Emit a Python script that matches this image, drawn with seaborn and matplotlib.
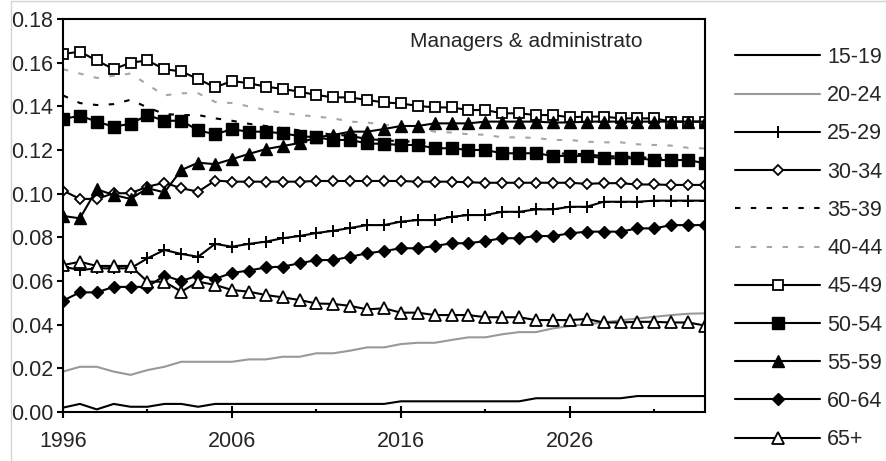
import seaborn as sns
import matplotlib.pyplot as plt
from matplotlib.ticker import MultipleLocator, FormatStrFormatter
from matplotlib.transforms import Bbox, TransformedBbox
from matplotlib.lines import Line2D

# share of employment by age group, managers & administrators
years = list(range(1996, 2035))

age_15_19 = [0.002, 0.0037, 0.0012, 0.0037, 0.0024, 0.0024, 0.0037, 0.0037, 0.0024,
             0.0037, 0.0037, 0.0037, 0.0037, 0.0037, 0.0037, 0.0037, 0.0037, 0.0037, 0.0037, 0.0037,
             0.0049, 0.0049, 0.0049, 0.0049, 0.0049, 0.0049, 0.0049, 0.0049,
             0.0063, 0.0063, 0.0063, 0.0063, 0.0063, 0.0063,
             0.0073, 0.0073, 0.0073, 0.0073, 0.0073]
age_20_24 = [0.0185, 0.0207, 0.0207, 0.0185, 0.017, 0.0192, 0.0207, 0.023, 0.023, 0.023,
             0.023, 0.0241, 0.0241, 0.0253, 0.0253, 0.0269, 0.0269, 0.0281, 0.0296, 0.0296,
             0.0311, 0.0317, 0.0317, 0.033, 0.0342, 0.0342, 0.0356, 0.0366, 0.0366, 0.0383,
             0.0394, 0.0402, 0.041, 0.042, 0.0428, 0.0436, 0.0444, 0.045, 0.0452]
age_25_29 = [0.0666, 0.065, 0.0658, 0.0658, 0.0658, 0.0704, 0.0742, 0.0724, 0.0711, 0.077,
             0.0757, 0.077, 0.078, 0.0796, 0.0806, 0.082, 0.083, 0.0843, 0.0856, 0.0856,
             0.0872, 0.0879, 0.0879, 0.0894, 0.0902, 0.0902, 0.0917, 0.0917, 0.0928, 0.0928,
             0.094, 0.094, 0.0963, 0.0963, 0.0963, 0.0968, 0.0968, 0.0968, 0.0968]
age_30_34 = [0.1014, 0.0976, 0.0976, 0.1002, 0.1002, 0.1032, 0.105, 0.1025, 0.1009, 0.106,
             0.1055, 0.1055, 0.1055, 0.1055, 0.1055, 0.1058, 0.1058, 0.1058, 0.1058, 0.1058,
             0.1058, 0.1055, 0.1055, 0.1055, 0.1052, 0.105, 0.105, 0.105, 0.105, 0.105,
             0.105, 0.1045, 0.1048, 0.1048, 0.1042, 0.1042, 0.104, 0.104, 0.104]
age_35_39 = [0.145, 0.1415, 0.1406, 0.141, 0.143, 0.1395, 0.1365, 0.136, 0.136, 0.1345,
             0.1334, 0.132, 0.131, 0.130, 0.129, 0.128, 0.127, 0.1265, 0.125, 0.1245,
             0.124, 0.1238, 0.1225, 0.1222, 0.1215, 0.121, 0.120, 0.1198, 0.1195, 0.1185,
             0.1183, 0.118, 0.1172, 0.117, 0.1168, 0.1163, 0.116, 0.1158, 0.1148]
age_40_44 = [0.157, 0.155, 0.153, 0.154, 0.155, 0.150, 0.145, 0.146, 0.146, 0.142,
             0.1415, 0.140, 0.1383, 0.137, 0.136, 0.1353, 0.1345, 0.133, 0.1326, 0.1315,
             0.131, 0.130, 0.1284, 0.128, 0.1272, 0.127, 0.1258, 0.1258, 0.1255, 0.1246,
             0.1246, 0.1238, 0.1235, 0.1235, 0.1226, 0.1223, 0.122, 0.121, 0.1207]
age_45_49 = [0.164, 0.165, 0.161, 0.157, 0.160, 0.161, 0.157, 0.156, 0.1525, 0.1487,
             0.1516, 0.1506, 0.149, 0.148, 0.1467, 0.1452, 0.1441, 0.1441, 0.1429, 0.1418,
             0.1413, 0.1402, 0.1395, 0.1395, 0.1383, 0.1383, 0.1368, 0.1368, 0.136, 0.136,
             0.135, 0.1353, 0.1353, 0.1345, 0.1345, 0.1345, 0.133, 0.133, 0.133]
age_50_54 = [0.1342, 0.1357, 0.133, 0.1307, 0.132, 0.136, 0.1334, 0.1334, 0.129, 0.1272,
             0.1295, 0.1284, 0.1284, 0.1276, 0.1264, 0.1258, 0.1246, 0.1246, 0.123, 0.1228,
             0.1223, 0.1223, 0.1208, 0.1208, 0.12, 0.12, 0.1185, 0.1185, 0.1185, 0.1173,
             0.1173, 0.1173, 0.1162, 0.1162, 0.1162, 0.1154, 0.1154, 0.1154, 0.1139]
age_55_59 = [0.0898, 0.0887, 0.102, 0.0994, 0.0976, 0.1025, 0.1006, 0.1108, 0.1142, 0.1135,
             0.1158, 0.1182, 0.1204, 0.1218, 0.1232, 0.1258, 0.1269, 0.1284, 0.1284, 0.1296,
             0.131, 0.131, 0.1322, 0.1322, 0.1322, 0.133, 0.133, 0.133, 0.133, 0.1326,
             0.1326, 0.133, 0.133, 0.133, 0.133, 0.133, 0.133, 0.133, 0.133]
age_60_64 = [0.051, 0.0548, 0.0548, 0.0573, 0.0573, 0.0573, 0.0625, 0.06, 0.0625, 0.061,
             0.0637, 0.0648, 0.0662, 0.0666, 0.0681, 0.0696, 0.0696, 0.0711, 0.0727, 0.0737,
             0.075, 0.075, 0.076, 0.0773, 0.0773, 0.0783, 0.0796, 0.0796, 0.0806, 0.0806,
             0.0818, 0.0826, 0.0826, 0.0826, 0.0841, 0.0841, 0.0856, 0.0856, 0.0856]
age_65_plus = [0.0673, 0.0688, 0.0669, 0.0669, 0.0669, 0.0597, 0.0597, 0.0551, 0.0597, 0.0582,
               0.0559, 0.0551, 0.0536, 0.0525, 0.0513, 0.0497, 0.0495, 0.0486, 0.047, 0.0475,
               0.0455, 0.0455, 0.0444, 0.0444, 0.0444, 0.0434, 0.0434, 0.0434, 0.0421, 0.0421,
               0.0421, 0.0426, 0.041, 0.041, 0.0413, 0.0413, 0.041, 0.041, 0.0396]

sns.set_style("white")
plt.rcParams['font.family'] = ['Liberation Sans', 'DejaVu Sans']

fig = plt.figure(figsize=(8.87, 4.61), dpi=100)
ax = fig.add_axes([63 / 887, 1 - 412 / 461, 642 / 887, 393 / 461])

blk = 'black'
dash = (0, (2.6, 5.0))
series = [
    ('15-19', age_15_19, dict(color=blk)),
    ('20-24', age_20_24, dict(color='#999999')),
    ('25-29', age_25_29, dict(color=blk, marker='+', markersize=8, markeredgewidth=1.4, markeredgecolor=blk)),
    ('30-34', age_30_34, dict(color=blk, marker='D', markersize=5.6, markerfacecolor='white',
                              markeredgecolor=blk, markeredgewidth=1.3)),
    ('35-39', age_35_39, dict(color=blk, linestyle=dash)),
    ('40-44', age_40_44, dict(color='#a6a6a6', linestyle=dash)),
    ('45-49', age_45_49, dict(color=blk, marker='s', markersize=7, markerfacecolor='white',
                              markeredgecolor=blk, markeredgewidth=1.3)),
    ('50-54', age_50_54, dict(color=blk, marker='s', markersize=8, markerfacecolor=blk,
                              markeredgecolor=blk, markeredgewidth=1)),
    ('55-59', age_55_59, dict(color=blk, marker='^', markersize=8, markerfacecolor=blk,
                              markeredgecolor=blk, markeredgewidth=1)),
    ('60-64', age_60_64, dict(color=blk, marker='D', markersize=5.8, markerfacecolor=blk,
                              markeredgecolor=blk, markeredgewidth=1)),
    ('65+', age_65_plus, dict(color=blk, marker='^', markersize=8, markerfacecolor='white',
                              markeredgecolor=blk, markeredgewidth=1.3)),
]

for label, vals, kw in series:
    sns.lineplot(x=years, y=vals, ax=ax, label=label, lw=1.5, errorbar=None, **kw)

handles, labels = ax.get_legend_handles_labels()
if ax.get_legend() is not None:
    ax.get_legend().remove()

ax.set_xlim(1996, 2034)
ax.set_ylim(0, 0.18)
ax.set_xticks([1996, 2006, 2016, 2026])
ax.set_xticks([2001, 2011, 2021, 2031], minor=True)
ax.yaxis.set_major_locator(MultipleLocator(0.02))
ax.yaxis.set_major_formatter(FormatStrFormatter('%.2f'))
ax.set_xlabel('')
ax.set_ylabel('')

ax.tick_params(axis='y', direction='out', length=4, width=1.5, labelsize=15.5, pad=3, color=blk, left=True)
ax.tick_params(axis='x', which='major', direction='inout', length=8, width=1.5, labelsize=15.5, pad=10,
               color=blk, bottom=True)
ax.tick_params(axis='x', which='minor', direction='in', length=2.5, width=1.5, color=blk, bottom=True)
for s in ax.spines.values():
    s.set_color(blk)
    s.set_linewidth(1.5)

t = ax.text(0.540, 0.944, 'Managers & administrators', transform=ax.transAxes,
            fontsize=15, ha='left', va='center')
t.set_clip_box(TransformedBbox(Bbox([[0, 0], [0.902, 1]]), ax.transAxes))
t.set_clip_on(True)

fig.legend(handles, labels, loc='upper left', bbox_to_anchor=(735 / 887, 1 - 47 / 461),
           frameon=False, fontsize=15.5, handlelength=3.95, handletextpad=0.33,
           labelspacing=0.8, borderpad=0, borderaxespad=0)

# faint chart-area border
fig.add_artist(Line2D([11.5 / 887, 11.5 / 887], [0, 1 - 1.5 / 461], transform=fig.transFigure,
                      color='#d4d4d4', lw=1))
fig.add_artist(Line2D([11.5 / 887, 1], [1 - 1.5 / 461, 1 - 1.5 / 461], transform=fig.transFigure,
                      color='#d4d4d4', lw=1))

fig.savefig('out.png', dpi=100)
